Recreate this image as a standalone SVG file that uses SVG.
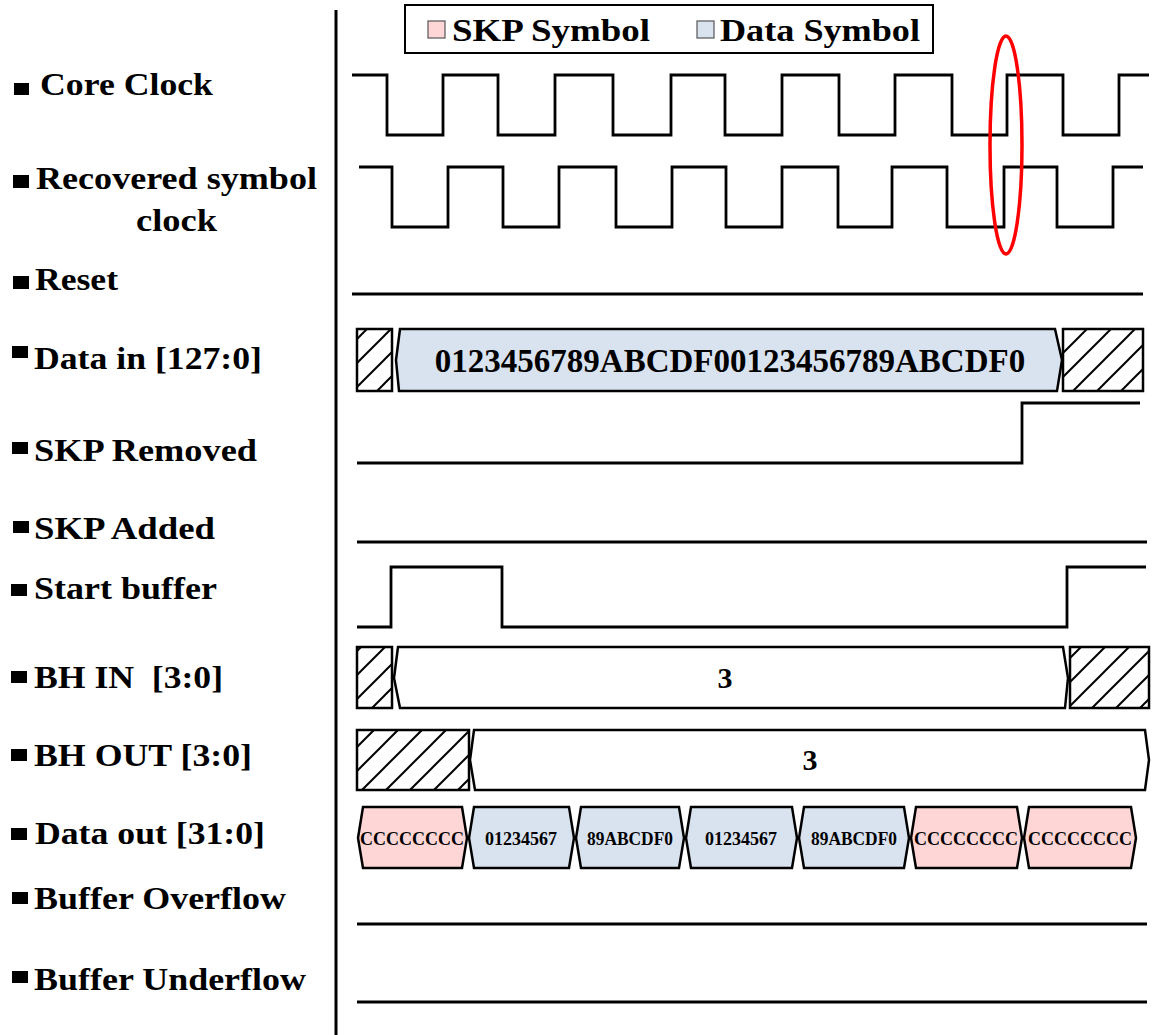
<svg xmlns="http://www.w3.org/2000/svg" width="1152" height="1035" viewBox="0 0 1152 1035">
  <style>
    .lbl { font-family: "Liberation Serif", "Times New Roman", serif; font-weight: bold; font-size: 31px; fill: #000; }
    .bus-txt { font-family: "Liberation Serif", "Times New Roman", serif; font-weight: bold; fill: #000; text-anchor: middle; }
    .wave { fill: none; stroke: #000; stroke-width: 2.8; stroke-linejoin: miter; }
    .bus { stroke: #000; stroke-width: 2.5; stroke-linejoin: miter; }
    .skp { fill: #ffd6d6; }
    .dat { fill: #d9e3f0; }
    .blank { fill: #fff; }
    .hatch { fill: url(#hatch); stroke: #000; stroke-width: 2.5; }
  </style>
  <defs>
    <pattern id="hatch" patternUnits="userSpaceOnUse" width="24" height="24">
      <rect width="24" height="24" fill="#fff"/>
      <path d="M0,24 L24,0 M-6,6 L6,-6 M18,30 L30,18" stroke="#000" stroke-width="2"/>
    </pattern>
  </defs>
  <rect width="1152" height="1035" fill="#fff"/>

  <!-- divider between signal names and waveforms -->
  <line x1="336" y1="10" x2="336" y2="1035" stroke="#000" stroke-width="3"/>

  <!-- legend -->
  <g id="legend">
    <rect x="405" y="5" width="528" height="48" fill="#fff" stroke="#000" stroke-width="2"/>
    <rect x="428" y="21" width="17" height="17" class="skp" stroke="#555" stroke-width="1.2"/>
    <text class="lbl" x="452" y="41" font-size="32" textLength="198" lengthAdjust="spacingAndGlyphs">SKP Symbol</text>
    <rect x="697" y="21" width="17" height="17" class="dat" stroke="#555" stroke-width="1.2"/>
    <text class="lbl" x="720" y="41" font-size="32" textLength="200" lengthAdjust="spacingAndGlyphs">Data Symbol</text>
  </g>

  <!-- signal names -->
  <g id="labels">
    <rect x="14" y="83" width="15" height="12"/>
    <text class="lbl" x="40" y="95" textLength="173" lengthAdjust="spacingAndGlyphs">Core Clock</text>
    <rect x="13" y="175" width="16" height="13"/>
    <text class="lbl" x="36" y="189" textLength="281" lengthAdjust="spacingAndGlyphs">Recovered symbol</text>
    <text class="lbl" x="136" y="231" textLength="81" lengthAdjust="spacingAndGlyphs">clock</text>
    <rect x="13" y="276" width="16" height="13"/>
    <text class="lbl" x="35" y="290" textLength="83" lengthAdjust="spacingAndGlyphs">Reset</text>
    <rect x="12" y="346" width="16" height="12"/>
    <text class="lbl" x="34" y="369" textLength="228" lengthAdjust="spacingAndGlyphs">Data in [127:0]</text>
    <rect x="12" y="442" width="16" height="12"/>
    <text class="lbl" x="34" y="461" textLength="223" lengthAdjust="spacingAndGlyphs">SKP Removed</text>
    <rect x="13" y="521" width="16" height="12"/>
    <text class="lbl" x="34" y="539" textLength="181" lengthAdjust="spacingAndGlyphs">SKP Added</text>
    <rect x="11" y="584" width="16" height="12"/>
    <text class="lbl" x="34" y="599" textLength="183" lengthAdjust="spacingAndGlyphs">Start buffer</text>
    <rect x="11" y="671" width="16" height="12"/>
    <text class="lbl" x="34" y="688" textLength="189" lengthAdjust="spacingAndGlyphs" xml:space="preserve">BH IN  [3:0]</text>
    <rect x="11" y="749" width="16" height="12"/>
    <text class="lbl" x="34" y="766" textLength="218" lengthAdjust="spacingAndGlyphs">BH OUT [3:0]</text>
    <rect x="11" y="828" width="16" height="12"/>
    <text class="lbl" x="35" y="844" textLength="230" lengthAdjust="spacingAndGlyphs">Data out [31:0]</text>
    <rect x="12" y="892" width="16" height="12"/>
    <text class="lbl" x="34" y="909" textLength="252" lengthAdjust="spacingAndGlyphs">Buffer Overflow</text>
    <rect x="12" y="971" width="16" height="12"/>
    <text class="lbl" x="34" y="990" textLength="272" lengthAdjust="spacingAndGlyphs">Buffer Underflow</text>
  </g>

  <!-- single-bit waveforms -->
  <g id="core-clock">
    <path class="wave" d="M352,75 H387 V135 H443 V75 H498 V135 H555 V75 H613 V135 H671 V75 H725 V135 H782 V75 H839 V135 H895 V75 H952 V135 H1007 V75 H1063 V135 H1119 V75 H1149"/>
  </g>
  <g id="recovered-clock">
    <path class="wave" d="M359,167 H392 V227 H448 V167 H503 V227 H559 V167 H616 V227 H672 V167 H726 V227 H782 V167 H838 V227 H892 V167 H947 V227 H1004 V167 H1057 V227 H1113 V167 H1143"/>
  </g>
  <g id="reset">
    <path class="wave" d="M352,294 H1143"/>
  </g>
  <g id="skp-removed">
    <path class="wave" d="M357,463 H1022 V403 H1140"/>
  </g>
  <g id="skp-added">
    <path class="wave" d="M357,542 H1147"/>
  </g>
  <g id="start-buffer">
    <path class="wave" d="M357,627 H391 V567 H502 V627 H1067 V567 H1146"/>
  </g>
  <g id="buffer-overflow">
    <path class="wave" d="M357,924 H1147"/>
  </g>
  <g id="buffer-underflow">
    <path class="wave" d="M357,1002 H1147"/>
  </g>

  <!-- Data in [127:0] -->
  <g id="data-in">
    <rect class="hatch" x="357" y="329" width="35" height="62"/>
    <polygon class="bus dat" points="400,329 1055,329 1062,360 1057,391 399,391 396,360"/>
    <text class="bus-txt" x="730" y="372" font-size="33">0123456789ABCDF00123456789ABCDF0</text>
    <rect class="hatch" x="1063" y="329" width="80" height="62"/>
  </g>

  <!-- BH IN [3:0] -->
  <g id="bh-in">
    <rect class="hatch" x="357" y="647" width="35" height="61"/>
    <polygon class="bus blank" points="398,647 1063,647 1068,678 1065,708 400,708 394,678"/>
    <text class="bus-txt" x="725" y="688" font-size="30">3</text>
    <rect class="hatch" x="1070" y="647" width="79" height="61"/>
  </g>

  <!-- BH OUT [3:0] -->
  <g id="bh-out">
    <rect class="hatch" x="357" y="730" width="112" height="60"/>
    <polygon class="bus blank" points="474,730 1145,730 1149,760 1145,790 475,790 470,760"/>
    <text class="bus-txt" x="810" y="770" font-size="30">3</text>
  </g>

  <!-- Data out [31:0] -->
  <g id="data-out">
    <polygon class="bus skp" points="358,838 363,807 462,807 467,838 462,868 363,868"/>
    <text class="bus-txt" x="412" y="845" font-size="18" textLength="104" lengthAdjust="spacingAndGlyphs">CCCCCCCC</text>
    <polygon class="bus dat" points="469,838 474,807 569,807 574,838 569,868 474,868"/>
    <text class="bus-txt" x="521" y="845" font-size="18">01234567</text>
    <polygon class="bus dat" points="576,838 581,807 679,807 684,838 679,868 581,868"/>
    <text class="bus-txt" x="630" y="845" font-size="18" textLength="86" lengthAdjust="spacingAndGlyphs">89ABCDF0</text>
    <polygon class="bus dat" points="686,838 691,807 792,807 797,838 792,868 691,868"/>
    <text class="bus-txt" x="741" y="845" font-size="18">01234567</text>
    <polygon class="bus dat" points="799,838 804,807 904,807 909,838 904,868 804,868"/>
    <text class="bus-txt" x="854" y="845" font-size="18" textLength="86" lengthAdjust="spacingAndGlyphs">89ABCDF0</text>
    <polygon class="bus skp" points="911,838 916,807 1017,807 1022,838 1017,868 916,868"/>
    <text class="bus-txt" x="966" y="845" font-size="18" textLength="104" lengthAdjust="spacingAndGlyphs">CCCCCCCC</text>
    <polygon class="bus skp" points="1024,838 1029,807 1131,807 1136,838 1131,868 1029,868"/>
    <text class="bus-txt" x="1080" y="845" font-size="18" textLength="104" lengthAdjust="spacingAndGlyphs">CCCCCCCC</text>
  </g>

  <!-- highlight of the clock edge realignment -->
  <g id="edge-highlight">
    <ellipse cx="1006" cy="145" rx="16" ry="109" fill="none" stroke="#ff0000" stroke-width="3.5"/>
  </g>
</svg>
